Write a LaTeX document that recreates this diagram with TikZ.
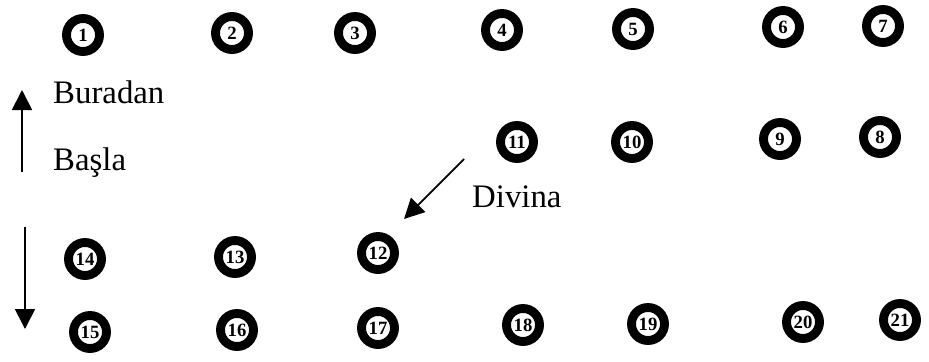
\documentclass[tikz,border=0pt]{standalone}
\usepackage{fontspec}
\setmainfont{Liberation Serif}
\usetikzlibrary{arrows.meta}
\tikzset{
  ball/.style={circle, draw=black, line width=7.6pt, minimum size=0.99cm,
    inner sep=0pt, font=\fontsize{16}{16}\selectfont\bfseries},
  word/.style={anchor=base west, inner sep=0pt, font=\fontsize{28}{30}\selectfont},
  yon/.style={line width=1.5pt, -{Triangle[length=0.6cm,width=0.6cm]}},
}
\begin{document}
\begin{tikzpicture}[x=0.03cm,y=-0.03cm]
\useasboundingbox (0,0) rectangle (929,361);

% ust sira
\node[ball] (n1) at (83,35) {1};
\node[ball] (n2) at (232,33) {2};
\node[ball] (n3) at (355,33) {3};
\node[ball] (n4) at (502,30) {4};
\node[ball] (n5) at (633,29) {5};
\node[ball] (n6) at (783,27) {6};
\node[ball] (n7) at (883,26) {7};

% ikinci sira
\node[ball] (n11) at (517,142) {11};
\node[ball] (n10) at (632,142) {10};
\node[ball] (n9) at (780,139) {9};
\node[ball] (n8) at (880,137) {8};

% ucuncu sira
\node[ball] (n14) at (85,259) {14};
\node[ball] (n13) at (235,257) {13};
\node[ball] (n12) at (378,253) {12};

% alt sira
\node[ball] (n15) at (90,332) {15};
\node[ball] (n16) at (237,330) {16};
\node[ball] (n17) at (378,328) {17};
\node[ball] (n18) at (523,325) {18};
\node[ball] (n19) at (648,324) {19};
\node[ball] (n20) at (803,322) {20};
\node[ball] (n21) at (900,320) {21};

% yazilar
\node[word] (buradan) at (53,103) {Buradan};
\node[word] (basla) at (53,170) {Başla};
\node[word] (divina) at (472,207) {Divina};

% oklar
\coordinate (yukari1) at (22,172);
\coordinate (yukari2) at (22,90);
\draw[yon] (yukari1) -- (yukari2);
\coordinate (asagi1) at (25,227);
\coordinate (asagi2) at (25,329);
\draw[yon] (asagi1) -- (asagi2);
\coordinate (capraz1) at (464,159);
\coordinate (capraz2) at (404,219);
\draw[yon] (capraz1) -- (capraz2);

\end{tikzpicture}
\end{document}
